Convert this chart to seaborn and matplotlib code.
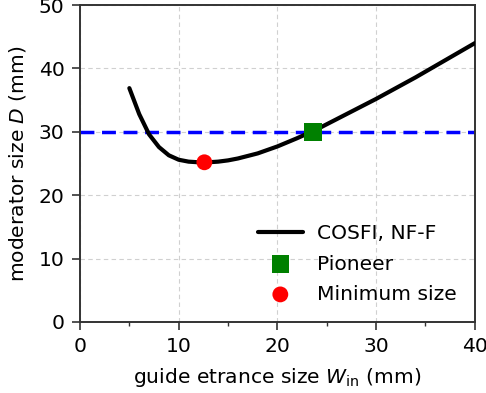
import numpy as np
import pandas as pd
import matplotlib
matplotlib.use("Agg")
import matplotlib.pyplot as plt
import seaborn as sns
from matplotlib.ticker import MultipleLocator

# COSFI NF-F moderator size vs. guide entrance size
w_in = [5, 6, 7, 8, 9, 10, 11, 12, 13, 14, 15, 16, 18, 20, 22, 24, 26, 28, 30, 32, 34, 36, 38, 40]
d_mod = [36.9, 32.8, 29.6, 27.6, 26.3, 25.6, 25.3, 25.2, 25.2, 25.3, 25.5, 25.8, 26.6, 27.7,
         29.0, 30.4, 32.0, 33.6, 35.2, 36.9, 38.6, 40.4, 42.2, 44.0]

pioneer_w = [23.6]
pioneer_d = [30.0]
min_w = [12.6]
min_d = [25.2]
d_limit = 30.0

sns.set_theme(style="white")
plt.rcParams["font.family"] = ["DejaVu Sans"]
plt.rcParams["text.color"] = "black"
plt.rcParams["axes.labelcolor"] = "black"

FS = 14.6

fig = plt.figure(figsize=(4.86, 3.93), dpi=100)
ax = fig.add_axes([0.1646, 0.1807, 0.977 - 0.1646, 0.987 - 0.1807])

df = pd.DataFrame({"W": w_in, "D": d_mod})
ax.axhline(d_limit, color="blue", lw=2.5, ls=(0, (4, 2.2)), zorder=2)
sns.lineplot(data=df, x="W", y="D", color="black", lw=3, ax=ax, label="COSFI, NF-F", zorder=3)
sns.scatterplot(x=pioneer_w, y=pioneer_d, marker="s", s=160, color="green", edgecolor="none",
                ax=ax, label="Pioneer", zorder=4)
sns.scatterplot(x=min_w, y=min_d, marker="o", s=130, color="red", edgecolor="none",
                ax=ax, label="Minimum size", zorder=4)

ax.set_xlim(0, 40)
ax.set_ylim(0, 50)
ax.xaxis.set_major_locator(MultipleLocator(10))
ax.xaxis.set_minor_locator(MultipleLocator(5))
ax.yaxis.set_major_locator(MultipleLocator(10))
ax.grid(True, which="major", color="#d0d0d0", ls=(0, (4, 3)), lw=0.8)
ax.tick_params(axis="both", which="major", direction="out", length=5.5, width=1.2, pad=5.5,
               colors="#333333", labelcolor="black", labelsize=FS, bottom=True, left=True)
ax.tick_params(axis="x", which="minor", direction="out", length=3, width=1.0,
               colors="#333333", bottom=True)
for sp in ax.spines.values():
    sp.set_color("#333333")
    sp.set_linewidth(1.4)

ax.set_xlabel(r"guide etrance size $W_{\mathrm{in}}$ (mm)", fontsize=FS, color="black",
              labelpad=7)
ax.set_ylabel(r"moderator size $D$ (mm)", fontsize=FS, color="black", labelpad=8)

leg = ax.legend(loc="lower right", frameon=False, fontsize=FS, handlelength=2.2,
                handletextpad=0.7, borderaxespad=0.5, labelspacing=0.55)
for t in leg.get_texts():
    t.set_color("black")

fig.savefig("out.png", dpi=100)
